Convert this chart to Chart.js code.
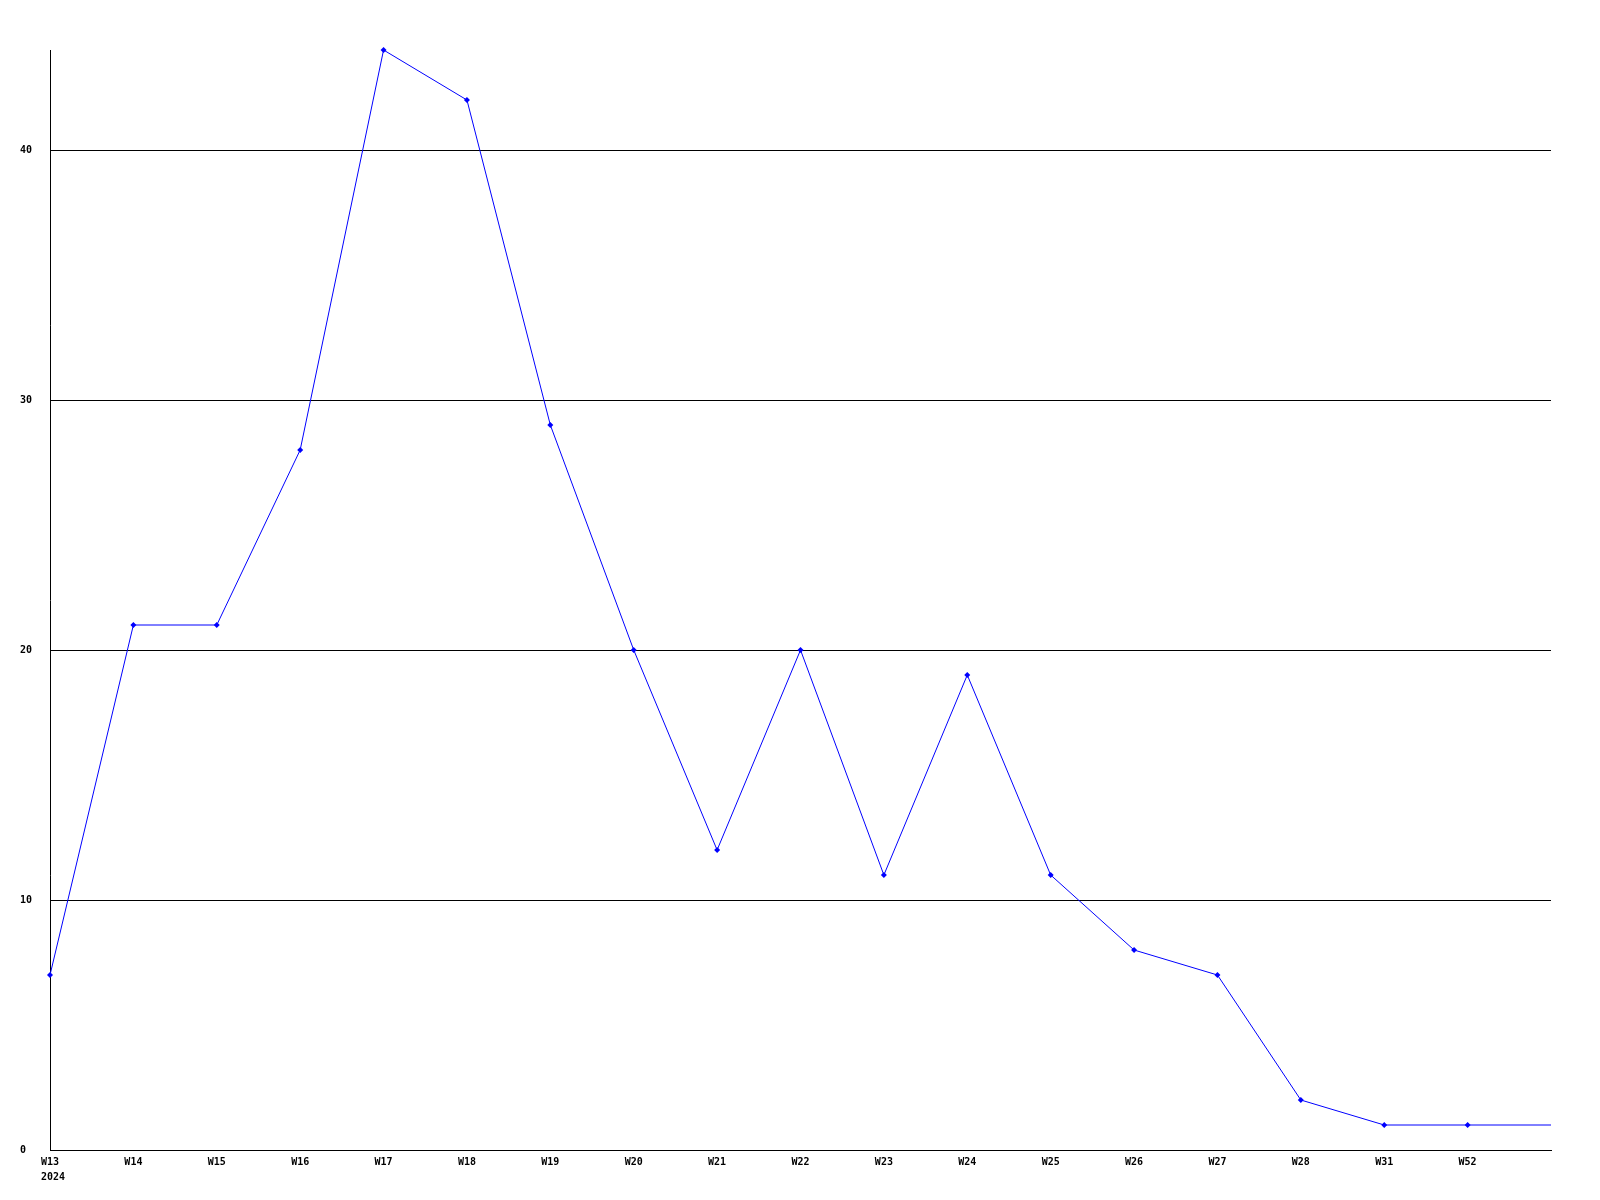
<!DOCTYPE html>
<html>
<head>
<meta charset="utf-8">
<script src="https://cdn.jsdelivr.net/npm/chart.js@4/dist/chart.umd.min.js"></script>
<style>
  html, body { margin: 0; padding: 0; background: #ffffff; }
  #wrap { width: 1600px; height: 1200px; }
</style>
</head>
<body>
<div id="wrap"><canvas id="c" width="1600" height="1200"></canvas></div>
<script>
const weeks = ["W13", "W14", "W15", "W16", "W17", "W18", "W19", "W20", "W21", "W22", "W23", "W24", "W25", "W26", "W27", "W28", "W31", "W52", ""];
const yearLabel = "2024";
const counts = [7, 21, 21, 28, 44, 42, 29, 20, 12, 20, 11, 19, 11, 8, 7, 2, 1, 1, 1];
const yTicks = [0, 10, 20, 30, 40];
const yMax = 44;

const labels = weeks.map((w, i) => i === 0 ? [w, " " + yearLabel] : w);
const pointRadii = counts.map((v, i) => i === counts.length - 1 ? 0 : 3);

const font = { family: "'DejaVu Sans Mono', 'Liberation Mono', monospace", size: 10, weight: 'bold', lineHeight: 1.5 };

new Chart(document.getElementById('c'), {
  type: 'line',
  data: {
    labels: labels,
    datasets: [{
      data: counts,
      borderColor: '#0000ff',
      backgroundColor: '#0000ff',
      borderWidth: 1,
      tension: 0,
      fill: false,
      clip: false,
      pointStyle: 'rectRot',
      pointRadius: pointRadii,
      pointHoverRadius: pointRadii,
      pointBorderWidth: 0,
      pointBackgroundColor: '#0000ff'
    }]
  },
  options: {
    responsive: false,
    animation: false,
    devicePixelRatio: 1,
    layout: { padding: { left: 20, top: 50, right: 49, bottom: 0 } },
    plugins: { legend: { display: false }, tooltip: { enabled: false } },
    scales: {
      x: {
        offset: false,
        grid: { display: false, drawTicks: false },
        border: { display: true, color: '#000000', width: 1 },
        ticks: {
          autoSkip: false, maxRotation: 0, minRotation: 0,
          color: '#000000', font: font, padding: 5
        },
        afterFit: (s) => { s.height = 50; }
      },
      y: {
        min: 0, max: yMax,
        grid: { display: true, color: '#000000', lineWidth: 1, drawTicks: false },
        border: { display: true, color: '#000000', width: 1 },
        afterBuildTicks: (s) => { s.ticks = yTicks.map(v => ({ value: v })); },
        ticks: {
          color: '#000000', font: { family: font.family, size: 10, weight: 'bold' }, crossAlign: 'far', padding: 0,
          includeBounds: false
        },
        afterFit: (s) => { s.width = 30; }
      }
    }
  }
});
</script>
</body>
</html>
